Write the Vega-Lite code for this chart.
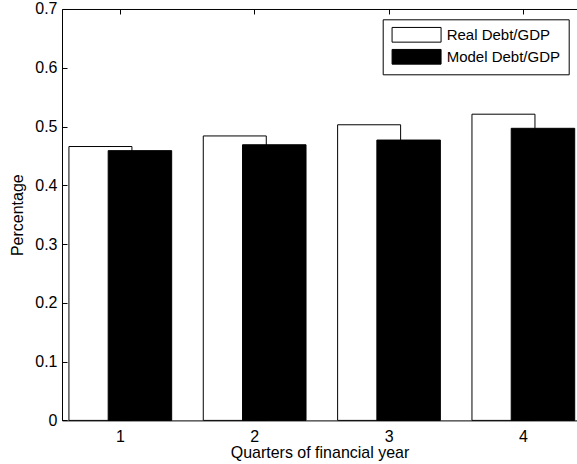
{
  "$schema": "https://vega.github.io/schema/vega-lite/v6.json",
  "width": 515,
  "height": 411.4,
  "autosize": "none",
  "padding": {"left": 62, "top": 9, "right": 0, "bottom": 43},
  "background": "white",
  "config": {
    "view": {"stroke": null},
    "font": "Liberation Sans",
    "axis": {
      "grid": false,
      "domainColor": "black",
      "tickColor": "black",
      "labelColor": "black",
      "titleColor": "black",
      "labelFont": "Liberation Sans",
      "titleFont": "Liberation Sans",
      "titleFontWeight": "normal",
      "domainWidth": 1,
      "tickWidth": 1
    }
  },
  "data": {
    "values": [
      {"quarter": 1, "series": "Real Debt/GDP", "value": 0.466},
      {"quarter": 2, "series": "Real Debt/GDP", "value": 0.484},
      {"quarter": 3, "series": "Real Debt/GDP", "value": 0.503},
      {"quarter": 4, "series": "Real Debt/GDP", "value": 0.521},
      {"quarter": 1, "series": "Model Debt/GDP", "value": 0.459},
      {"quarter": 2, "series": "Model Debt/GDP", "value": 0.469},
      {"quarter": 3, "series": "Model Debt/GDP", "value": 0.477},
      {"quarter": 4, "series": "Model Debt/GDP", "value": 0.497}
    ]
  },
  "resolve": {"axis": {"x": "independent"}},
  "layer": [
    {
      "transform": [{"filter": "datum.series === 'Real Debt/GDP'"}],
      "mark": {"type": "bar", "width": 63, "xOffset": -19.5, "stroke": "black", "strokeWidth": 1},
      "encoding": {
        "x": {
          "field": "quarter",
          "type": "quantitative",
          "scale": {"domain": [0.606, 4.365], "nice": false, "zero": false},
          "axis": {
            "orient": "bottom",
            "values": [1, 2, 3, 4],
            "format": "d",
            "tickSize": -5,
            "labelPadding": 13,
            "labelFontSize": 16,
            "titleFontSize": 16,
            "title": "Quarters of financial year",
            "titlePadding": 0
          }
        },
        "y": {
          "field": "value",
          "type": "quantitative",
          "scale": {"domain": [0, 0.7], "nice": false},
          "axis": {
            "values": [0, 0.1, 0.2, 0.3, 0.4, 0.5, 0.6, 0.7],
            "format": "~g",
            "tickSize": -5,
            "labelPadding": 10,
            "labelFontSize": 16,
            "titleFontSize": 16,
            "title": "Percentage",
            "titlePadding": 9
          }
        },
        "color": {
          "field": "series",
          "type": "nominal",
          "scale": {"domain": ["Real Debt/GDP", "Model Debt/GDP"], "range": ["white", "black"]},
          "legend": {
            "title": null,
            "orient": "none",
            "legendX": 320.7,
            "legendY": 10.3,
            "direction": "vertical",
            "strokeColor": "black",
            "fillColor": "white",
            "padding": 8,
            "symbolType": "M-1,-1.2H7V1.2H-1Z",
            "symbolSize": 150,
            "symbolStrokeColor": "black",
            "symbolStrokeWidth": 1,
            "symbolOpacity": 1,
            "labelFont": "Liberation Sans",
            "labelFontSize": 15,
            "labelColor": "black",
            "labelOffset": 41,
            "rowPadding": 3
          }
        }
      }
    },
    {
      "transform": [{"filter": "datum.series === 'Model Debt/GDP'"}],
      "mark": {"type": "bar", "width": 63.5, "xOffset": 20, "stroke": "black", "strokeWidth": 1},
      "encoding": {
        "x": {
          "field": "quarter",
          "type": "quantitative",
          "axis": {
            "orient": "top",
            "values": [1, 2, 3, 4],
            "labels": false,
            "tickSize": -5,
            "title": null
          }
        },
        "y": {"field": "value", "type": "quantitative"},
        "color": {"field": "series", "type": "nominal"}
      }
    }
  ]
}
